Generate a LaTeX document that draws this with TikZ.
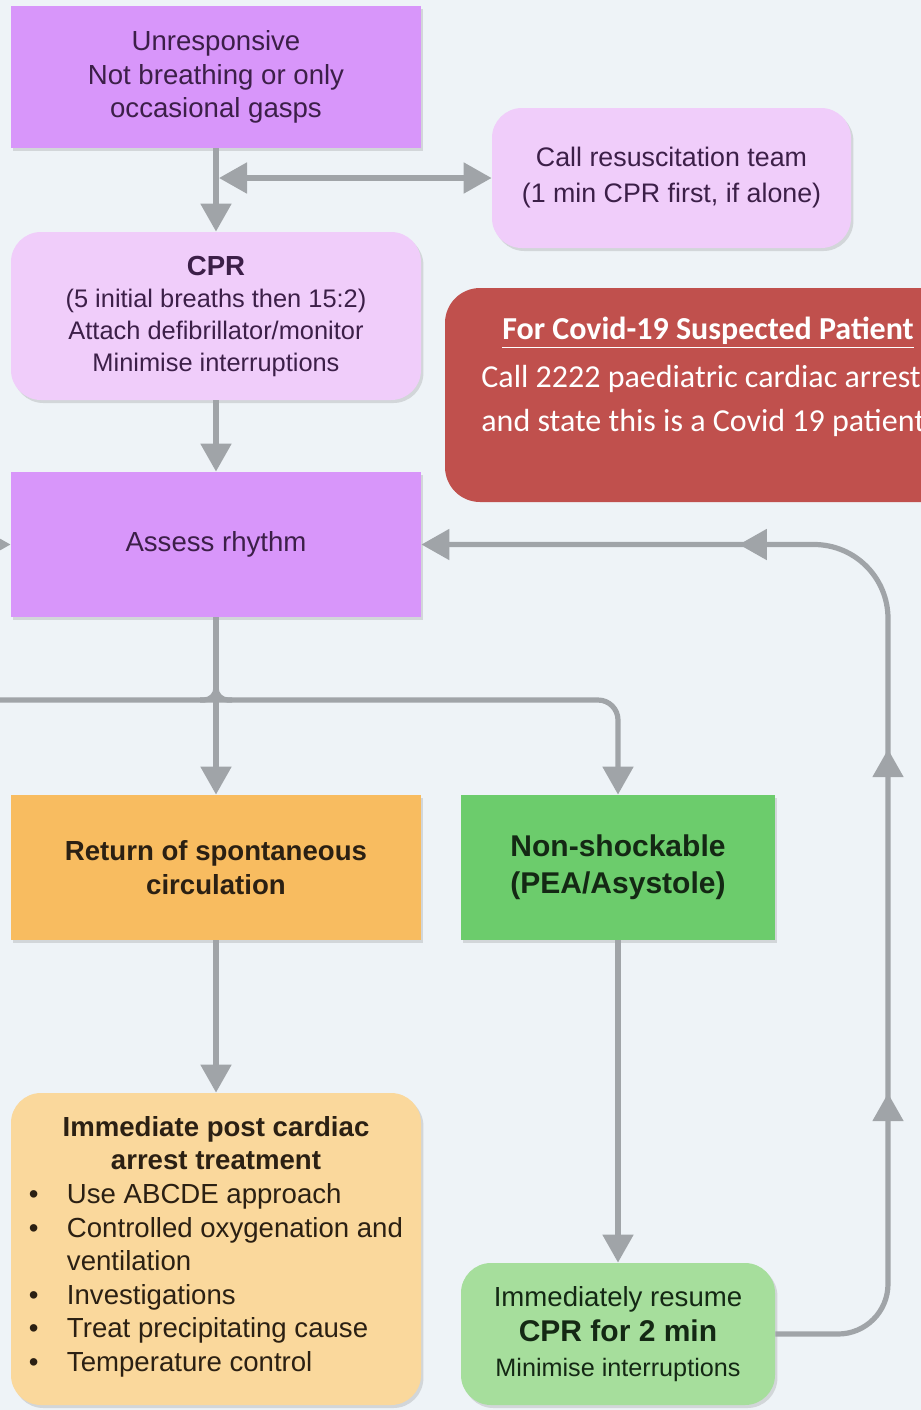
\documentclass[tikz,border=0pt]{standalone}
\usepackage{fontspec}
\setmainfont{Liberation Sans}
\newfontfamily\covidfont{Carlito}
\usetikzlibrary{arrows.meta,shadows,decorations.markings}

\definecolor{bgblue}{HTML}{EEF3F7}
\definecolor{violetfill}{HTML}{D896FA}
\definecolor{lilacfill}{HTML}{F0CDFA}
\definecolor{purpletext}{HTML}{3C1F48}
\definecolor{roscfill}{HTML}{F8BC60}
\definecolor{postfill}{HTML}{FAD89C}
\definecolor{brownext}{HTML}{2B2013}
\definecolor{greenfill}{HTML}{6CCC6C}
\definecolor{lightgreen}{HTML}{A6DE9C}
\definecolor{greentext}{HTML}{142814}
\definecolor{arrowgray}{HTML}{A0A4A8}
\definecolor{covidred}{HTML}{C0504D}

\begin{document}
\begin{tikzpicture}[x=0.5pt,y=-0.5pt,
        >={Triangle[length=14pt,width=15pt]},
        link/.style={draw=arrowgray,line width=2.6pt},
        arr/.style={link,->},
        box/.style={minimum width=205pt,align=center,text=purpletext,
            font=\fontsize{13.8}{16.8}\selectfont,
            drop shadow={shadow xshift=1.2pt,shadow yshift=-1.5pt,opacity=0.25}},
        roundbox/.style={box,rounded corners=15pt}]
    \useasboundingbox (0,0) rectangle (921,1410);
    \clip (0,0) rectangle (921,1410);
    \fill[bgblue] (0,0) rectangle (921,1410);

    % left column
    \node[box,fill=violetfill,minimum height=71pt] (unresp) at (216,77)
        {Unresponsive\\Not breathing or only\\occasional gasps};
    \node[roundbox,fill=lilacfill,minimum height=84pt,font=\fontsize{12.7}{16}\selectfont] (cpr) at (216,316)
        {{\fontsize{13.8}{16}\selectfont\bfseries CPR}\\(5 initial breaths then 15:2)\\Attach defibrillator/monitor\\Minimise interruptions};
    \node[box,fill=violetfill,minimum height=72.5pt] (assess) at (216,544.5) {Assess rhythm};
    \node[box,fill=roscfill,minimum height=72.5pt,text=brownext,font=\fontsize{13.8}{16.8}\selectfont\bfseries]
        (rosc) at (216,867.5) {Return of spontaneous\\circulation};
    \node[roundbox,fill=postfill,minimum height=156pt,text=brownext] (post) at (216,1249)
        {\textbf{Immediate post cardiac}\\\textbf{arrest treatment}\\
        \begin{tabular}[t]{@{}p{19pt}@{}l@{}}
            \textbullet & Use ABCDE approach\\
            \textbullet & Controlled oxygenation and\\
                        & ventilation\\
            \textbullet & Investigations\\
            \textbullet & Treat precipitating cause\\
            \textbullet & Temperature control
        \end{tabular}};

    % right column
    \node[roundbox,fill=lilacfill,minimum width=179.5pt,minimum height=70pt,
        font=\fontsize{13.4}{18}\selectfont] (callteam) at (671.5,178)
        {Call resuscitation team\\(1 min CPR first, if alone)};
    \node[box,fill=greenfill,minimum width=157pt,minimum height=72.5pt,text=greentext,
        font=\fontsize{15}{18.5}\selectfont\bfseries] (nonshock) at (618,867.5)
        {Non-shockable\\(PEA/Asystole)};
    \node[roundbox,fill=lightgreen,minimum width=157pt,minimum height=71pt,text=greentext,
        font=\fontsize{13.8}{17.5}\selectfont] (resume) at (618,1334)
        {Immediately resume\\{\fontsize{15}{17.5}\selectfont\bfseries CPR for 2 min}\\{\fontsize{12.6}{17.5}\selectfont Minimise interruptions}};

    % covid note
    \node[fill=covidred,rounded corners=17.5pt,minimum width=263pt,minimum height=107pt] (covid) at (708,395) {};
    \node[text=white,font=\covidfont\fontsize{16}{22}\selectfont\bfseries] (covidhead) at (708,333)
        {\underline{For Covid-19 Suspected Patient}};
    \node[anchor=west,align=left,text=white,inner sep=0pt,font=\covidfont\fontsize{16}{22}\selectfont]
        (covidbody) at (481,401) {Call 2222 paediatric cardiac arrest\\and state this is a Covid 19 patient};

    % connectors
    \coordinate (callsplit) at (219,178);
    \coordinate (leftin) at (-30,544.5);
    \coordinate (leftsplit) at (-30,700);
    \coordinate (junction) at (216,700);
    \draw[arr] (unresp) -- (cpr);
    \draw[link,<->] (callsplit) -- (callteam.west);
    \draw[arr] (cpr) -- (assess);
    \draw[arr] (leftin) -- (assess.west);
    \draw[arr] (assess) -- (rosc);
    \draw[arr,rounded corners=10pt] (leftsplit) -| (nonshock.north);
    \draw[link,rounded corners=6pt] ([xshift=-8pt]junction) -| (assess.south);
    \draw[link,rounded corners=6pt] ([xshift=8pt]junction) -| (assess.south);
    \draw[arr] (rosc) -- (post);
    \draw[arr] (nonshock) -- (resume);
    \draw[arr,postaction={decorate},decoration={markings,
            mark=at position 166pt with {\arrow{>}},
            mark=at position 338pt with {\arrow{>}},
            mark=at position 499pt with {\arrow{>}}}]
        (resume.east) [rounded corners=25pt] -| (888,900) [rounded corners=37pt] |- (assess.east);
\end{tikzpicture}
\end{document}
